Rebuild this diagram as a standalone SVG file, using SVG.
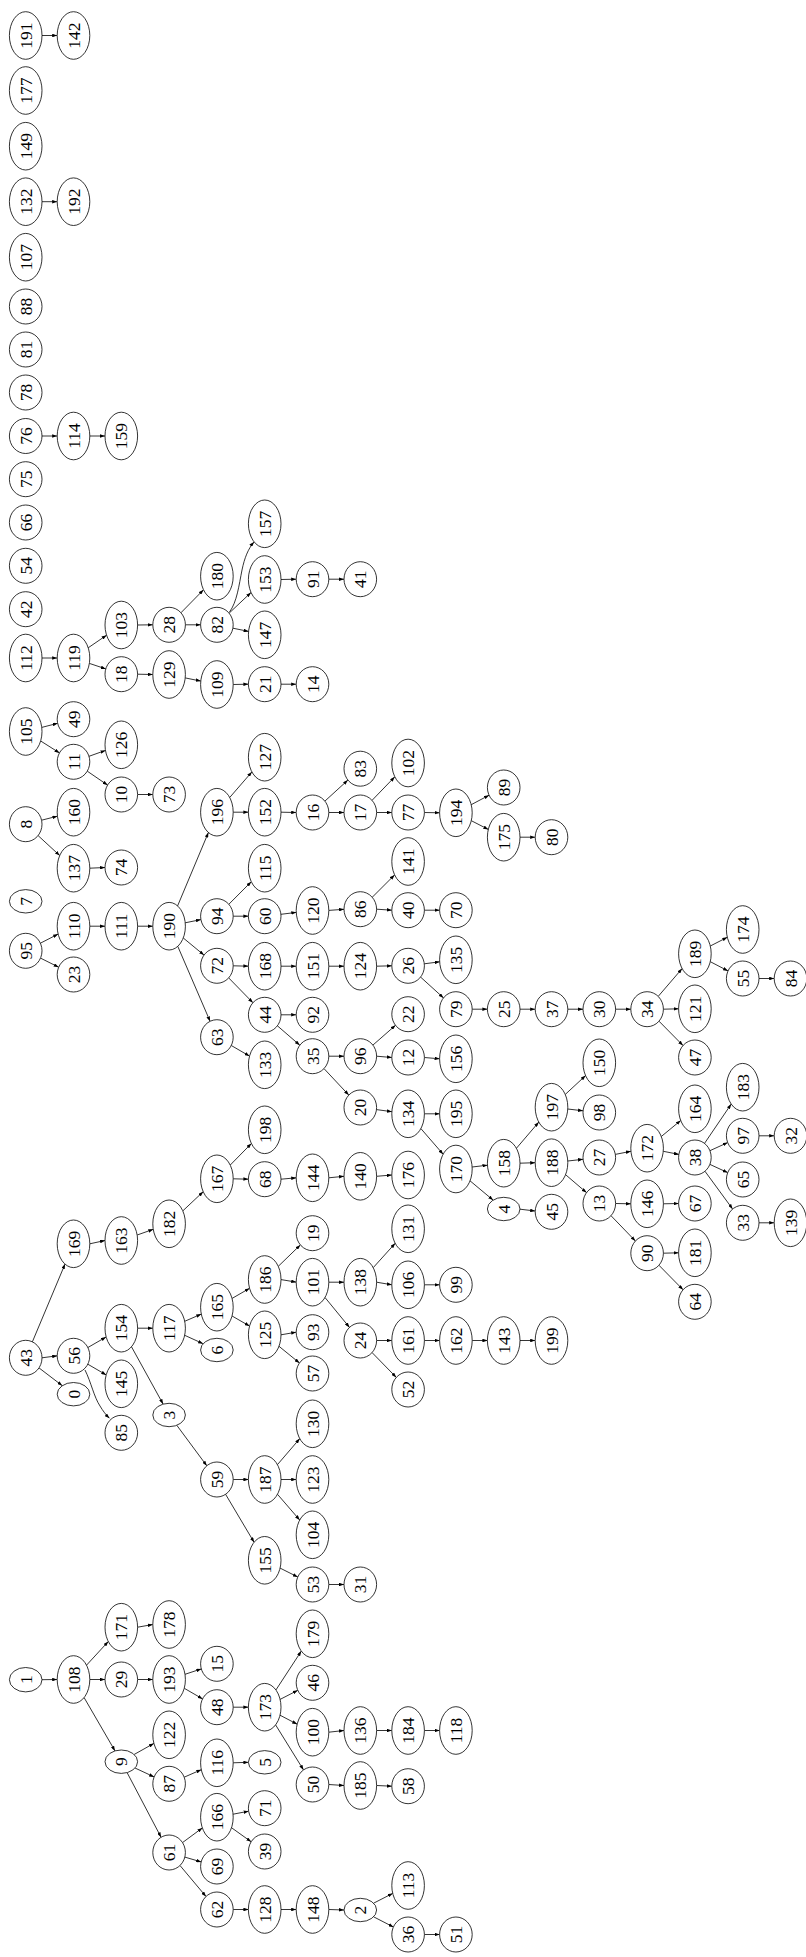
<svg xmlns="http://www.w3.org/2000/svg" width="806" height="1957" viewBox="0 0 806 1957">
<style>
ellipse{fill:#fff;stroke:#000;stroke-width:.8}
text{font-family:"Liberation Serif","Times New Roman",serif;font-size:17.5px;text-anchor:middle;fill:#000}
#edges path{fill:none;stroke:#000;stroke-width:.8;marker-end:url(#a)}
</style>
<defs>
<marker id="a" viewBox="0 0 10 10" refX="10" refY="5" markerWidth="5" markerHeight="3.6" markerUnits="userSpaceOnUse" orient="auto" preserveAspectRatio="none"><path d="M0,0L10,5L0,10z" fill="#000"/></marker>
</defs>
<rect width="806" height="1957" fill="#fff"/>
<g id="edges">
<path d="M42,35.5L57.2,35.5"/>
<path d="M42,201.7L57.2,201.7"/>
<path d="M42,436L57.2,436"/>
<path d="M89.8,436L105,436"/>
<path d="M42,658L57.2,658"/>
<path d="M88.2,647.8L106.6,635.2"/>
<path d="M89.4,663.4L105.8,668.9"/>
<path d="M137.6,625L152.8,624.8"/>
<path d="M180.9,612.8L203.5,589.8"/>
<path d="M185.4,624.8L200.6,624.8"/>
<path d="M229.5,612C237,602 239,585 242,570C244.5,558 248,549 254,542"/>
<path d="M229.1,613.2L251,592.5"/>
<path d="M232.9,628.2L248.6,631.4"/>
<path d="M281,579.5L296.2,579.2"/>
<path d="M328.8,579.2L344,579.2"/>
<path d="M137.6,674.2L152.8,674.5"/>
<path d="M185.2,677.9L200.8,681.1"/>
<path d="M233.2,684.5L248.4,684.2"/>
<path d="M281,684.2L296.2,684.2"/>
<path d="M41.8,727.4L57.7,723.3"/>
<path d="M40.7,741L59.5,752.9"/>
<path d="M89,756.3L105.5,750.4"/>
<path d="M87.3,771.2L107.6,785.1"/>
<path d="M137.6,794.5L152.8,794.5"/>
<path d="M41.6,820.2L57.4,816.2"/>
<path d="M38.1,835.6L59.7,855.5"/>
<path d="M89.8,868.2L105,867.5"/>
<path d="M40.4,943.2L58.1,934.1"/>
<path d="M40.5,958.1L58.7,967.2"/>
<path d="M89.8,926.2L105,926.2"/>
<path d="M137.6,926.2L152.8,926.2"/>
<path d="M177.6,905.9L208.4,832.5"/>
<path d="M185.2,922.8L200.9,919.6"/>
<path d="M183.3,938L204,955.1"/>
<path d="M177.8,946.4L210.1,1021.3"/>
<path d="M229.7,797.5L251.9,771.9"/>
<path d="M233.2,812.2L248.4,812.2"/>
<path d="M281,812.2L296.2,812.5"/>
<path d="M324.9,801.1L347.9,780.1"/>
<path d="M328.8,812.5L344,812.5"/>
<path d="M372,800.4L394.8,776.8"/>
<path d="M376.6,812.5L391.8,812.5"/>
<path d="M424.4,812.5L439.6,812.8"/>
<path d="M471.2,804.7L489.1,795.2"/>
<path d="M471.3,820.7L488.3,829.4"/>
<path d="M520,837.2L535.2,837.2"/>
<path d="M228.8,904.3L251.3,881.7"/>
<path d="M233.2,916.2L248.4,916.2"/>
<path d="M280.9,914.3L296.3,912.4"/>
<path d="M328.8,910.4L344,909.3"/>
<path d="M372.2,897.3L394.6,874.9"/>
<path d="M376.6,909.2L391.8,910.2"/>
<path d="M424.4,910.2L439.6,910.2"/>
<path d="M233.2,965.8L248.4,966.2"/>
<path d="M228.7,977.9L252.9,1002.7"/>
<path d="M281,966.2L296.2,966.2"/>
<path d="M328.8,966.2L344,966.2"/>
<path d="M376.6,966.2L391.8,965.8"/>
<path d="M424.3,963.8L439.7,961.8"/>
<path d="M420.6,977.1L443.5,997.9"/>
<path d="M472.2,1009.2L487.4,1009.2"/>
<path d="M520,1009.2L535.2,1009.2"/>
<path d="M567.8,1009.2L583,1009.2"/>
<path d="M615.6,1009.2L630.8,1009.2"/>
<path d="M658.2,996.4L682.1,968.6"/>
<path d="M663.4,1009.2L678.6,1008.8"/>
<path d="M659,1021.2L683,1045.5"/>
<path d="M710.3,946L727.3,937.3"/>
<path d="M710.3,961.7L728,970.9"/>
<path d="M759,978.5L774.2,978.5"/>
<path d="M231.3,1045.5L249.5,1056.1"/>
<path d="M281,1014.8L296.2,1014.8"/>
<path d="M277.4,1025.8L299.8,1045.2"/>
<path d="M328.8,1056.2L344,1056.2"/>
<path d="M324,1068.6L348.8,1095.1"/>
<path d="M372.9,1045.1L395.5,1025.3"/>
<path d="M376.6,1056.2L391.8,1057.5"/>
<path d="M424.4,1057.5L439.6,1058.8"/>
<path d="M376.5,1109.6L391.9,1111.7"/>
<path d="M424.4,1113.8L439.6,1113.8"/>
<path d="M420.9,1128.6L443.1,1154.2"/>
<path d="M472.1,1167L487.5,1165.2"/>
<path d="M470,1180.8L493.1,1200.1"/>
<path d="M520,1209.2L535.2,1211"/>
<path d="M516.4,1148.3L538.8,1122.1"/>
<path d="M520,1163.2L535.2,1162.7"/>
<path d="M565.3,1094.4L585.6,1075.6"/>
<path d="M567.8,1109L583,1110.8"/>
<path d="M567.8,1161L583,1159.3"/>
<path d="M565.6,1174.7L586.5,1192.6"/>
<path d="M615.3,1154.4L630.9,1151.3"/>
<path d="M661.3,1136.5L680.7,1120.5"/>
<path d="M663.3,1151.3L678.9,1154.4"/>
<path d="M704.5,1143.4L731.2,1104.1"/>
<path d="M709.9,1150.7L727.7,1142.6"/>
<path d="M709.9,1164.4L727.7,1172.6"/>
<path d="M705,1171.3L732.6,1209"/>
<path d="M759,1135.8L774.2,1135.8"/>
<path d="M759,1222.8L774.2,1222.8"/>
<path d="M615.6,1203.5L630.8,1203.8"/>
<path d="M611,1215.7L635.4,1241"/>
<path d="M663.4,1203.8L678.6,1203.5"/>
<path d="M663.4,1253.2L678.6,1252.8"/>
<path d="M658.9,1265.2L683.1,1289.8"/>
<path d="M32.4,1341.8L65,1264.1"/>
<path d="M42,1357.8L57.2,1355.8"/>
<path d="M39,1367.9L62.3,1385.7"/>
<path d="M89.8,1243.8L105,1240.5"/>
<path d="M137.2,1235L153.3,1229.3"/>
<path d="M182.8,1210.9L203.2,1191.7"/>
<path d="M230.2,1165.1L251.4,1143.5"/>
<path d="M233.2,1178.8L248.4,1179.2"/>
<path d="M281,1179.2L296.2,1177.8"/>
<path d="M328.8,1177.8L344,1176.3"/>
<path d="M376.6,1176.3L391.8,1175"/>
<path d="M87.9,1347.5L106.1,1337"/>
<path d="M87.8,1364.2L106.2,1374.9"/>
<path d="M85,1370C91,1382 94,1397 100,1406C103,1411 106,1415 109.5,1418.3"/>
<path d="M137.6,1328.2L152.8,1328.2"/>
<path d="M131.5,1346.8L163.1,1404.1"/>
<path d="M184.7,1321.3L201.3,1314.1"/>
<path d="M184.7,1335.3L203.1,1343.7"/>
<path d="M232.1,1298.4L249.6,1288.3"/>
<path d="M232.1,1316L249.6,1326.1"/>
<path d="M278.3,1266.3L300.4,1244.9"/>
<path d="M281,1279.6L296.2,1282.1"/>
<path d="M328.8,1282.2L344,1282.2"/>
<path d="M325,1297.5L349.5,1327.4"/>
<path d="M373.2,1267.7L395.2,1243.3"/>
<path d="M376.6,1282.2L391.8,1284.8"/>
<path d="M424.4,1284.8L439.6,1284.8"/>
<path d="M376.6,1340.5L391.8,1340.5"/>
<path d="M372.1,1352.6L396.3,1377.4"/>
<path d="M424.4,1340.5L439.6,1340.5"/>
<path d="M472.2,1340.5L487.4,1340.5"/>
<path d="M520,1340.5L535.2,1340.5"/>
<path d="M281,1334.8L296.2,1332.2"/>
<path d="M279,1346.3L299.5,1363"/>
<path d="M176.8,1425.3L206.8,1465.8"/>
<path d="M233.2,1479.5L248.4,1479.5"/>
<path d="M225.6,1494.3L254.1,1542.3"/>
<path d="M277.4,1464.7L299.8,1438.6"/>
<path d="M281,1479.5L296.2,1479.5"/>
<path d="M277.5,1494.3L299.7,1520"/>
<path d="M280.1,1568.1L297.8,1577"/>
<path d="M328.8,1584.5L344,1584.5"/>
<path d="M42,1679.7L57.2,1679.5"/>
<path d="M86.5,1665.2L108.3,1641.5"/>
<path d="M89.8,1679.5L105,1679.5"/>
<path d="M84.1,1697.6L115,1750.9"/>
<path d="M137.6,1627.2L152.8,1624.5"/>
<path d="M137.6,1679.5L152.8,1679.5"/>
<path d="M185,1674.3L201.3,1668.9"/>
<path d="M184.3,1688.3L202.6,1698.9"/>
<path d="M233.2,1707.2L248.4,1707.2"/>
<path d="M275.9,1690L301.3,1651.1"/>
<path d="M280.1,1699.4L297.8,1690.3"/>
<path d="M280,1715.2L297.2,1724.2"/>
<path d="M275.6,1724.9L303.5,1769.9"/>
<path d="M328.8,1732.2L344,1730.5"/>
<path d="M376.6,1730.5L391.8,1730.5"/>
<path d="M424.4,1730.5L439.6,1730.5"/>
<path d="M328.8,1784.5L344,1785.5"/>
<path d="M376.6,1785.5L391.8,1786.2"/>
<path d="M134.1,1754.5L153.9,1743.4"/>
<path d="M135,1768L154.1,1776.9"/>
<path d="M127.1,1772.6L161.1,1837.3"/>
<path d="M184.2,1777.2L201.3,1769.7"/>
<path d="M233.2,1762.8L248.4,1762.3"/>
<path d="M182.5,1842.6L202.4,1827.9"/>
<path d="M184.8,1857.1L201.2,1861.9"/>
<path d="M180,1865.5L206,1896.5"/>
<path d="M233.1,1814.2L248.6,1811.2"/>
<path d="M231.5,1827.7L251.2,1841.8"/>
<path d="M233.2,1909.5L248.4,1909.5"/>
<path d="M281,1909.5L296.2,1909.5"/>
<path d="M328.8,1909.5L344,1910"/>
<path d="M373.6,1903.2L392.7,1893.4"/>
<path d="M373.6,1916.8L393.4,1927"/>
<path d="M424.4,1934.5L439.6,1934.5"/>
</g>
<g id="n191"><ellipse cx="25.7" cy="35.5" rx="16.3" ry="23.8"/><text transform="translate(25.7 35.5) rotate(-90)" y="6">191</text></g>
<g id="n177"><ellipse cx="25.7" cy="90.5" rx="16.3" ry="23.8"/><text transform="translate(25.7 90.5) rotate(-90)" y="6">177</text></g>
<g id="n149"><ellipse cx="25.7" cy="146.2" rx="16.3" ry="23.8"/><text transform="translate(25.7 146.2) rotate(-90)" y="6">149</text></g>
<g id="n132"><ellipse cx="25.7" cy="201.7" rx="16.3" ry="23.8"/><text transform="translate(25.7 201.7) rotate(-90)" y="6">132</text></g>
<g id="n107"><ellipse cx="25.7" cy="257.2" rx="16.3" ry="23.8"/><text transform="translate(25.7 257.2) rotate(-90)" y="6">107</text></g>
<g id="n88"><ellipse cx="25.7" cy="306.5" rx="16.3" ry="17.5"/><text transform="translate(25.7 306.5) rotate(-90)" y="6">88</text></g>
<g id="n81"><ellipse cx="25.7" cy="349.5" rx="16.3" ry="17.5"/><text transform="translate(25.7 349.5) rotate(-90)" y="6">81</text></g>
<g id="n78"><ellipse cx="25.7" cy="392.5" rx="16.3" ry="17.5"/><text transform="translate(25.7 392.5) rotate(-90)" y="6">78</text></g>
<g id="n76"><ellipse cx="25.7" cy="436" rx="16.3" ry="17.5"/><text transform="translate(25.7 436) rotate(-90)" y="6">76</text></g>
<g id="n75"><ellipse cx="25.7" cy="479.2" rx="16.3" ry="17.5"/><text transform="translate(25.7 479.2) rotate(-90)" y="6">75</text></g>
<g id="n66"><ellipse cx="25.7" cy="522.5" rx="16.3" ry="17.5"/><text transform="translate(25.7 522.5) rotate(-90)" y="6">66</text></g>
<g id="n54"><ellipse cx="25.7" cy="565.8" rx="16.3" ry="17.5"/><text transform="translate(25.7 565.8) rotate(-90)" y="6">54</text></g>
<g id="n42"><ellipse cx="25.7" cy="609.2" rx="16.3" ry="17.5"/><text transform="translate(25.7 609.2) rotate(-90)" y="6">42</text></g>
<g id="n112"><ellipse cx="25.7" cy="658" rx="16.3" ry="23.8"/><text transform="translate(25.7 658) rotate(-90)" y="6">112</text></g>
<g id="n105"><ellipse cx="25.7" cy="731.5" rx="16.3" ry="23.8"/><text transform="translate(25.7 731.5) rotate(-90)" y="6">105</text></g>
<g id="n8"><ellipse cx="25.7" cy="824.2" rx="16.3" ry="17.5"/><text transform="translate(25.7 824.2) rotate(-90)" y="6">8</text></g>
<g id="n7"><ellipse cx="25.7" cy="901.3" rx="16.3" ry="11.7"/><text transform="translate(25.7 901.3) rotate(-90)" y="6">7</text></g>
<g id="n95"><ellipse cx="25.7" cy="950.8" rx="16.3" ry="17.5"/><text transform="translate(25.7 950.8) rotate(-90)" y="6">95</text></g>
<g id="n43"><ellipse cx="25.7" cy="1357.8" rx="16.3" ry="17.5"/><text transform="translate(25.7 1357.8) rotate(-90)" y="6">43</text></g>
<g id="n1"><ellipse cx="25.7" cy="1679.7" rx="16.3" ry="12.2"/><text transform="translate(25.7 1679.7) rotate(-90)" y="6">1</text></g>
<g id="n142"><ellipse cx="73.5" cy="35.5" rx="16.3" ry="23.8"/><text transform="translate(73.5 35.5) rotate(-90)" y="6">142</text></g>
<g id="n192"><ellipse cx="73.5" cy="201.7" rx="16.3" ry="23.8"/><text transform="translate(73.5 201.7) rotate(-90)" y="6">192</text></g>
<g id="n114"><ellipse cx="73.5" cy="436" rx="16.3" ry="23.8"/><text transform="translate(73.5 436) rotate(-90)" y="6">114</text></g>
<g id="n119"><ellipse cx="73.5" cy="658" rx="16.3" ry="23.8"/><text transform="translate(73.5 658) rotate(-90)" y="6">119</text></g>
<g id="n49"><ellipse cx="73.5" cy="719.2" rx="16.3" ry="17.5"/><text transform="translate(73.5 719.2) rotate(-90)" y="6">49</text></g>
<g id="n11"><ellipse cx="73.5" cy="761.8" rx="16.3" ry="17.5"/><text transform="translate(73.5 761.8) rotate(-90)" y="6">11</text></g>
<g id="n160"><ellipse cx="73.5" cy="812.2" rx="16.3" ry="23.8"/><text transform="translate(73.5 812.2) rotate(-90)" y="6">160</text></g>
<g id="n137"><ellipse cx="73.5" cy="868.2" rx="16.3" ry="23.8"/><text transform="translate(73.5 868.2) rotate(-90)" y="6">137</text></g>
<g id="n110"><ellipse cx="73.5" cy="926.2" rx="16.3" ry="23.8"/><text transform="translate(73.5 926.2) rotate(-90)" y="6">110</text></g>
<g id="n23"><ellipse cx="73.5" cy="974.5" rx="16.3" ry="17.5"/><text transform="translate(73.5 974.5) rotate(-90)" y="6">23</text></g>
<g id="n169"><ellipse cx="73.5" cy="1243.8" rx="16.3" ry="23.8"/><text transform="translate(73.5 1243.8) rotate(-90)" y="6">169</text></g>
<g id="n56"><ellipse cx="73.5" cy="1355.8" rx="16.3" ry="17.5"/><text transform="translate(73.5 1355.8) rotate(-90)" y="6">56</text></g>
<g id="n0"><ellipse cx="73.5" cy="1394.2" rx="16.3" ry="11.7"/><text transform="translate(73.5 1394.2) rotate(-90)" y="6">0</text></g>
<g id="n108"><ellipse cx="73.5" cy="1679.5" rx="16.3" ry="23.8"/><text transform="translate(73.5 1679.5) rotate(-90)" y="6">108</text></g>
<g id="n159"><ellipse cx="121.3" cy="436" rx="16.3" ry="23.8"/><text transform="translate(121.3 436) rotate(-90)" y="6">159</text></g>
<g id="n103"><ellipse cx="121.3" cy="625" rx="16.3" ry="23.8"/><text transform="translate(121.3 625) rotate(-90)" y="6">103</text></g>
<g id="n18"><ellipse cx="121.3" cy="674.2" rx="16.3" ry="17.5"/><text transform="translate(121.3 674.2) rotate(-90)" y="6">18</text></g>
<g id="n126"><ellipse cx="121.3" cy="744.8" rx="16.3" ry="23.8"/><text transform="translate(121.3 744.8) rotate(-90)" y="6">126</text></g>
<g id="n10"><ellipse cx="121.3" cy="794.5" rx="16.3" ry="17.5"/><text transform="translate(121.3 794.5) rotate(-90)" y="6">10</text></g>
<g id="n74"><ellipse cx="121.3" cy="867.5" rx="16.3" ry="17.5"/><text transform="translate(121.3 867.5) rotate(-90)" y="6">74</text></g>
<g id="n111"><ellipse cx="121.3" cy="926.2" rx="16.3" ry="23.8"/><text transform="translate(121.3 926.2) rotate(-90)" y="6">111</text></g>
<g id="n163"><ellipse cx="121.3" cy="1240.5" rx="16.3" ry="23.8"/><text transform="translate(121.3 1240.5) rotate(-90)" y="6">163</text></g>
<g id="n154"><ellipse cx="121.3" cy="1328.2" rx="16.3" ry="23.8"/><text transform="translate(121.3 1328.2) rotate(-90)" y="6">154</text></g>
<g id="n145"><ellipse cx="121.3" cy="1383.8" rx="16.3" ry="23.8"/><text transform="translate(121.3 1383.8) rotate(-90)" y="6">145</text></g>
<g id="n85"><ellipse cx="121.3" cy="1432.8" rx="16.3" ry="17.5"/><text transform="translate(121.3 1432.8) rotate(-90)" y="6">85</text></g>
<g id="n171"><ellipse cx="121.3" cy="1627.2" rx="16.3" ry="23.8"/><text transform="translate(121.3 1627.2) rotate(-90)" y="6">171</text></g>
<g id="n29"><ellipse cx="121.3" cy="1679.5" rx="16.3" ry="17.5"/><text transform="translate(121.3 1679.5) rotate(-90)" y="6">29</text></g>
<g id="n9"><ellipse cx="121.3" cy="1761.7" rx="16.3" ry="11.7"/><text transform="translate(121.3 1761.7) rotate(-90)" y="6">9</text></g>
<g id="n28"><ellipse cx="169.1" cy="624.8" rx="16.3" ry="17.5"/><text transform="translate(169.1 624.8) rotate(-90)" y="6">28</text></g>
<g id="n129"><ellipse cx="169.1" cy="674.5" rx="16.3" ry="23.8"/><text transform="translate(169.1 674.5) rotate(-90)" y="6">129</text></g>
<g id="n73"><ellipse cx="169.1" cy="794.5" rx="16.3" ry="17.5"/><text transform="translate(169.1 794.5) rotate(-90)" y="6">73</text></g>
<g id="n190"><ellipse cx="169.1" cy="926.2" rx="16.3" ry="23.8"/><text transform="translate(169.1 926.2) rotate(-90)" y="6">190</text></g>
<g id="n182"><ellipse cx="169.1" cy="1223.8" rx="16.3" ry="23.8"/><text transform="translate(169.1 1223.8) rotate(-90)" y="6">182</text></g>
<g id="n117"><ellipse cx="169.1" cy="1328.2" rx="16.3" ry="23.8"/><text transform="translate(169.1 1328.2) rotate(-90)" y="6">117</text></g>
<g id="n3"><ellipse cx="169.1" cy="1415" rx="16.3" ry="11.7"/><text transform="translate(169.1 1415) rotate(-90)" y="6">3</text></g>
<g id="n178"><ellipse cx="169.1" cy="1624.5" rx="16.3" ry="23.8"/><text transform="translate(169.1 1624.5) rotate(-90)" y="6">178</text></g>
<g id="n193"><ellipse cx="169.1" cy="1679.5" rx="16.3" ry="23.8"/><text transform="translate(169.1 1679.5) rotate(-90)" y="6">193</text></g>
<g id="n122"><ellipse cx="169.1" cy="1734.8" rx="16.3" ry="23.8"/><text transform="translate(169.1 1734.8) rotate(-90)" y="6">122</text></g>
<g id="n87"><ellipse cx="169.1" cy="1783.8" rx="16.3" ry="17.5"/><text transform="translate(169.1 1783.8) rotate(-90)" y="6">87</text></g>
<g id="n61"><ellipse cx="169.1" cy="1852.5" rx="16.3" ry="17.5"/><text transform="translate(169.1 1852.5) rotate(-90)" y="6">61</text></g>
<g id="n180"><ellipse cx="216.9" cy="576.2" rx="16.3" ry="23.8"/><text transform="translate(216.9 576.2) rotate(-90)" y="6">180</text></g>
<g id="n82"><ellipse cx="216.9" cy="624.8" rx="16.3" ry="17.5"/><text transform="translate(216.9 624.8) rotate(-90)" y="6">82</text></g>
<g id="n109"><ellipse cx="216.9" cy="684.5" rx="16.3" ry="23.8"/><text transform="translate(216.9 684.5) rotate(-90)" y="6">109</text></g>
<g id="n196"><ellipse cx="216.9" cy="812.2" rx="16.3" ry="23.8"/><text transform="translate(216.9 812.2) rotate(-90)" y="6">196</text></g>
<g id="n94"><ellipse cx="216.9" cy="916.2" rx="16.3" ry="17.5"/><text transform="translate(216.9 916.2) rotate(-90)" y="6">94</text></g>
<g id="n72"><ellipse cx="216.9" cy="965.8" rx="16.3" ry="17.5"/><text transform="translate(216.9 965.8) rotate(-90)" y="6">72</text></g>
<g id="n63"><ellipse cx="216.9" cy="1037.2" rx="16.3" ry="17.5"/><text transform="translate(216.9 1037.2) rotate(-90)" y="6">63</text></g>
<g id="n167"><ellipse cx="216.9" cy="1178.8" rx="16.3" ry="23.8"/><text transform="translate(216.9 1178.8) rotate(-90)" y="6">167</text></g>
<g id="n165"><ellipse cx="216.9" cy="1307.2" rx="16.3" ry="23.8"/><text transform="translate(216.9 1307.2) rotate(-90)" y="6">165</text></g>
<g id="n6"><ellipse cx="216.9" cy="1350" rx="16.3" ry="11.7"/><text transform="translate(216.9 1350) rotate(-90)" y="6">6</text></g>
<g id="n59"><ellipse cx="216.9" cy="1479.5" rx="16.3" ry="17.5"/><text transform="translate(216.9 1479.5) rotate(-90)" y="6">59</text></g>
<g id="n15"><ellipse cx="216.9" cy="1663.8" rx="16.3" ry="17.5"/><text transform="translate(216.9 1663.8) rotate(-90)" y="6">15</text></g>
<g id="n48"><ellipse cx="216.9" cy="1707.2" rx="16.3" ry="17.5"/><text transform="translate(216.9 1707.2) rotate(-90)" y="6">48</text></g>
<g id="n116"><ellipse cx="216.9" cy="1762.8" rx="16.3" ry="23.8"/><text transform="translate(216.9 1762.8) rotate(-90)" y="6">116</text></g>
<g id="n166"><ellipse cx="216.9" cy="1817.2" rx="16.3" ry="23.8"/><text transform="translate(216.9 1817.2) rotate(-90)" y="6">166</text></g>
<g id="n69"><ellipse cx="216.9" cy="1866.5" rx="16.3" ry="17.5"/><text transform="translate(216.9 1866.5) rotate(-90)" y="6">69</text></g>
<g id="n62"><ellipse cx="216.9" cy="1909.5" rx="16.3" ry="17.5"/><text transform="translate(216.9 1909.5) rotate(-90)" y="6">62</text></g>
<g id="n157"><ellipse cx="264.7" cy="523.8" rx="16.3" ry="23.8"/><text transform="translate(264.7 523.8) rotate(-90)" y="6">157</text></g>
<g id="n153"><ellipse cx="264.7" cy="579.5" rx="16.3" ry="23.8"/><text transform="translate(264.7 579.5) rotate(-90)" y="6">153</text></g>
<g id="n147"><ellipse cx="264.7" cy="634.8" rx="16.3" ry="23.8"/><text transform="translate(264.7 634.8) rotate(-90)" y="6">147</text></g>
<g id="n21"><ellipse cx="264.7" cy="684.2" rx="16.3" ry="17.5"/><text transform="translate(264.7 684.2) rotate(-90)" y="6">21</text></g>
<g id="n127"><ellipse cx="264.7" cy="757.2" rx="16.3" ry="23.8"/><text transform="translate(264.7 757.2) rotate(-90)" y="6">127</text></g>
<g id="n152"><ellipse cx="264.7" cy="812.2" rx="16.3" ry="23.8"/><text transform="translate(264.7 812.2) rotate(-90)" y="6">152</text></g>
<g id="n115"><ellipse cx="264.7" cy="868.2" rx="16.3" ry="23.8"/><text transform="translate(264.7 868.2) rotate(-90)" y="6">115</text></g>
<g id="n60"><ellipse cx="264.7" cy="916.2" rx="16.3" ry="17.5"/><text transform="translate(264.7 916.2) rotate(-90)" y="6">60</text></g>
<g id="n168"><ellipse cx="264.7" cy="966.2" rx="16.3" ry="23.8"/><text transform="translate(264.7 966.2) rotate(-90)" y="6">168</text></g>
<g id="n44"><ellipse cx="264.7" cy="1014.8" rx="16.3" ry="17.5"/><text transform="translate(264.7 1014.8) rotate(-90)" y="6">44</text></g>
<g id="n133"><ellipse cx="264.7" cy="1064.8" rx="16.3" ry="23.8"/><text transform="translate(264.7 1064.8) rotate(-90)" y="6">133</text></g>
<g id="n198"><ellipse cx="264.7" cy="1129.8" rx="16.3" ry="23.8"/><text transform="translate(264.7 1129.8) rotate(-90)" y="6">198</text></g>
<g id="n68"><ellipse cx="264.7" cy="1179.2" rx="16.3" ry="17.5"/><text transform="translate(264.7 1179.2) rotate(-90)" y="6">68</text></g>
<g id="n186"><ellipse cx="264.7" cy="1279.5" rx="16.3" ry="23.8"/><text transform="translate(264.7 1279.5) rotate(-90)" y="6">186</text></g>
<g id="n125"><ellipse cx="264.7" cy="1334.8" rx="16.3" ry="23.8"/><text transform="translate(264.7 1334.8) rotate(-90)" y="6">125</text></g>
<g id="n187"><ellipse cx="264.7" cy="1479.5" rx="16.3" ry="23.8"/><text transform="translate(264.7 1479.5) rotate(-90)" y="6">187</text></g>
<g id="n155"><ellipse cx="264.7" cy="1560.3" rx="16.3" ry="23.8"/><text transform="translate(264.7 1560.3) rotate(-90)" y="6">155</text></g>
<g id="n173"><ellipse cx="264.7" cy="1707.2" rx="16.3" ry="23.8"/><text transform="translate(264.7 1707.2) rotate(-90)" y="6">173</text></g>
<g id="n5"><ellipse cx="264.7" cy="1762.3" rx="16.3" ry="11.7"/><text transform="translate(264.7 1762.3) rotate(-90)" y="6">5</text></g>
<g id="n71"><ellipse cx="264.7" cy="1808.2" rx="16.3" ry="17.5"/><text transform="translate(264.7 1808.2) rotate(-90)" y="6">71</text></g>
<g id="n39"><ellipse cx="264.7" cy="1851.5" rx="16.3" ry="17.5"/><text transform="translate(264.7 1851.5) rotate(-90)" y="6">39</text></g>
<g id="n128"><ellipse cx="264.7" cy="1909.5" rx="16.3" ry="23.8"/><text transform="translate(264.7 1909.5) rotate(-90)" y="6">128</text></g>
<g id="n91"><ellipse cx="312.5" cy="579.2" rx="16.3" ry="17.5"/><text transform="translate(312.5 579.2) rotate(-90)" y="6">91</text></g>
<g id="n14"><ellipse cx="312.5" cy="684.2" rx="16.3" ry="17.5"/><text transform="translate(312.5 684.2) rotate(-90)" y="6">14</text></g>
<g id="n16"><ellipse cx="312.5" cy="812.5" rx="16.3" ry="17.5"/><text transform="translate(312.5 812.5) rotate(-90)" y="6">16</text></g>
<g id="n120"><ellipse cx="312.5" cy="910.5" rx="16.3" ry="23.8"/><text transform="translate(312.5 910.5) rotate(-90)" y="6">120</text></g>
<g id="n151"><ellipse cx="312.5" cy="966.2" rx="16.3" ry="23.8"/><text transform="translate(312.5 966.2) rotate(-90)" y="6">151</text></g>
<g id="n92"><ellipse cx="312.5" cy="1014.8" rx="16.3" ry="17.5"/><text transform="translate(312.5 1014.8) rotate(-90)" y="6">92</text></g>
<g id="n35"><ellipse cx="312.5" cy="1056.2" rx="16.3" ry="17.5"/><text transform="translate(312.5 1056.2) rotate(-90)" y="6">35</text></g>
<g id="n144"><ellipse cx="312.5" cy="1177.8" rx="16.3" ry="23.8"/><text transform="translate(312.5 1177.8) rotate(-90)" y="6">144</text></g>
<g id="n19"><ellipse cx="312.5" cy="1233.2" rx="16.3" ry="17.5"/><text transform="translate(312.5 1233.2) rotate(-90)" y="6">19</text></g>
<g id="n101"><ellipse cx="312.5" cy="1282.2" rx="16.3" ry="23.8"/><text transform="translate(312.5 1282.2) rotate(-90)" y="6">101</text></g>
<g id="n93"><ellipse cx="312.5" cy="1332.2" rx="16.3" ry="17.5"/><text transform="translate(312.5 1332.2) rotate(-90)" y="6">93</text></g>
<g id="n57"><ellipse cx="312.5" cy="1373.5" rx="16.3" ry="17.5"/><text transform="translate(312.5 1373.5) rotate(-90)" y="6">57</text></g>
<g id="n130"><ellipse cx="312.5" cy="1423.8" rx="16.3" ry="23.8"/><text transform="translate(312.5 1423.8) rotate(-90)" y="6">130</text></g>
<g id="n123"><ellipse cx="312.5" cy="1479.5" rx="16.3" ry="23.8"/><text transform="translate(312.5 1479.5) rotate(-90)" y="6">123</text></g>
<g id="n104"><ellipse cx="312.5" cy="1534.8" rx="16.3" ry="23.8"/><text transform="translate(312.5 1534.8) rotate(-90)" y="6">104</text></g>
<g id="n53"><ellipse cx="312.5" cy="1584.5" rx="16.3" ry="17.5"/><text transform="translate(312.5 1584.5) rotate(-90)" y="6">53</text></g>
<g id="n179"><ellipse cx="312.5" cy="1633.8" rx="16.3" ry="23.8"/><text transform="translate(312.5 1633.8) rotate(-90)" y="6">179</text></g>
<g id="n46"><ellipse cx="312.5" cy="1682.8" rx="16.3" ry="17.5"/><text transform="translate(312.5 1682.8) rotate(-90)" y="6">46</text></g>
<g id="n100"><ellipse cx="312.5" cy="1732.2" rx="16.3" ry="23.8"/><text transform="translate(312.5 1732.2) rotate(-90)" y="6">100</text></g>
<g id="n50"><ellipse cx="312.5" cy="1784.5" rx="16.3" ry="17.5"/><text transform="translate(312.5 1784.5) rotate(-90)" y="6">50</text></g>
<g id="n148"><ellipse cx="312.5" cy="1909.5" rx="16.3" ry="23.8"/><text transform="translate(312.5 1909.5) rotate(-90)" y="6">148</text></g>
<g id="n41"><ellipse cx="360.3" cy="579.2" rx="16.3" ry="17.5"/><text transform="translate(360.3 579.2) rotate(-90)" y="6">41</text></g>
<g id="n83"><ellipse cx="360.3" cy="768.7" rx="16.3" ry="17.5"/><text transform="translate(360.3 768.7) rotate(-90)" y="6">83</text></g>
<g id="n17"><ellipse cx="360.3" cy="812.5" rx="16.3" ry="17.5"/><text transform="translate(360.3 812.5) rotate(-90)" y="6">17</text></g>
<g id="n86"><ellipse cx="360.3" cy="909.2" rx="16.3" ry="17.5"/><text transform="translate(360.3 909.2) rotate(-90)" y="6">86</text></g>
<g id="n124"><ellipse cx="360.3" cy="966.2" rx="16.3" ry="23.8"/><text transform="translate(360.3 966.2) rotate(-90)" y="6">124</text></g>
<g id="n96"><ellipse cx="360.3" cy="1056.2" rx="16.3" ry="17.5"/><text transform="translate(360.3 1056.2) rotate(-90)" y="6">96</text></g>
<g id="n20"><ellipse cx="360.3" cy="1107.5" rx="16.3" ry="17.5"/><text transform="translate(360.3 1107.5) rotate(-90)" y="6">20</text></g>
<g id="n140"><ellipse cx="360.3" cy="1176.3" rx="16.3" ry="23.8"/><text transform="translate(360.3 1176.3) rotate(-90)" y="6">140</text></g>
<g id="n138"><ellipse cx="360.3" cy="1282.2" rx="16.3" ry="23.8"/><text transform="translate(360.3 1282.2) rotate(-90)" y="6">138</text></g>
<g id="n24"><ellipse cx="360.3" cy="1340.5" rx="16.3" ry="17.5"/><text transform="translate(360.3 1340.5) rotate(-90)" y="6">24</text></g>
<g id="n31"><ellipse cx="360.3" cy="1584.5" rx="16.3" ry="17.5"/><text transform="translate(360.3 1584.5) rotate(-90)" y="6">31</text></g>
<g id="n136"><ellipse cx="360.3" cy="1730.5" rx="16.3" ry="23.8"/><text transform="translate(360.3 1730.5) rotate(-90)" y="6">136</text></g>
<g id="n185"><ellipse cx="360.3" cy="1785.5" rx="16.3" ry="23.8"/><text transform="translate(360.3 1785.5) rotate(-90)" y="6">185</text></g>
<g id="n2"><ellipse cx="360.3" cy="1910" rx="16.3" ry="11.7"/><text transform="translate(360.3 1910) rotate(-90)" y="6">2</text></g>
<g id="n102"><ellipse cx="408.1" cy="763" rx="16.3" ry="23.8"/><text transform="translate(408.1 763) rotate(-90)" y="6">102</text></g>
<g id="n77"><ellipse cx="408.1" cy="812.5" rx="16.3" ry="17.5"/><text transform="translate(408.1 812.5) rotate(-90)" y="6">77</text></g>
<g id="n141"><ellipse cx="408.1" cy="861.5" rx="16.3" ry="23.8"/><text transform="translate(408.1 861.5) rotate(-90)" y="6">141</text></g>
<g id="n40"><ellipse cx="408.1" cy="910.2" rx="16.3" ry="17.5"/><text transform="translate(408.1 910.2) rotate(-90)" y="6">40</text></g>
<g id="n26"><ellipse cx="408.1" cy="965.8" rx="16.3" ry="17.5"/><text transform="translate(408.1 965.8) rotate(-90)" y="6">26</text></g>
<g id="n22"><ellipse cx="408.1" cy="1014.2" rx="16.3" ry="17.5"/><text transform="translate(408.1 1014.2) rotate(-90)" y="6">22</text></g>
<g id="n12"><ellipse cx="408.1" cy="1057.5" rx="16.3" ry="17.5"/><text transform="translate(408.1 1057.5) rotate(-90)" y="6">12</text></g>
<g id="n134"><ellipse cx="408.1" cy="1113.8" rx="16.3" ry="23.8"/><text transform="translate(408.1 1113.8) rotate(-90)" y="6">134</text></g>
<g id="n176"><ellipse cx="408.1" cy="1175" rx="16.3" ry="23.8"/><text transform="translate(408.1 1175) rotate(-90)" y="6">176</text></g>
<g id="n131"><ellipse cx="408.1" cy="1228.8" rx="16.3" ry="23.8"/><text transform="translate(408.1 1228.8) rotate(-90)" y="6">131</text></g>
<g id="n106"><ellipse cx="408.1" cy="1284.8" rx="16.3" ry="23.8"/><text transform="translate(408.1 1284.8) rotate(-90)" y="6">106</text></g>
<g id="n161"><ellipse cx="408.1" cy="1340.5" rx="16.3" ry="23.8"/><text transform="translate(408.1 1340.5) rotate(-90)" y="6">161</text></g>
<g id="n52"><ellipse cx="408.1" cy="1389.5" rx="16.3" ry="17.5"/><text transform="translate(408.1 1389.5) rotate(-90)" y="6">52</text></g>
<g id="n184"><ellipse cx="408.1" cy="1730.5" rx="16.3" ry="23.8"/><text transform="translate(408.1 1730.5) rotate(-90)" y="6">184</text></g>
<g id="n58"><ellipse cx="408.1" cy="1786.2" rx="16.3" ry="17.5"/><text transform="translate(408.1 1786.2) rotate(-90)" y="6">58</text></g>
<g id="n113"><ellipse cx="408.1" cy="1885.5" rx="16.3" ry="23.8"/><text transform="translate(408.1 1885.5) rotate(-90)" y="6">113</text></g>
<g id="n36"><ellipse cx="408.1" cy="1934.5" rx="16.3" ry="17.5"/><text transform="translate(408.1 1934.5) rotate(-90)" y="6">36</text></g>
<g id="n194"><ellipse cx="455.9" cy="812.8" rx="16.3" ry="23.8"/><text transform="translate(455.9 812.8) rotate(-90)" y="6">194</text></g>
<g id="n70"><ellipse cx="455.9" cy="910.2" rx="16.3" ry="17.5"/><text transform="translate(455.9 910.2) rotate(-90)" y="6">70</text></g>
<g id="n135"><ellipse cx="455.9" cy="959.8" rx="16.3" ry="23.8"/><text transform="translate(455.9 959.8) rotate(-90)" y="6">135</text></g>
<g id="n79"><ellipse cx="455.9" cy="1009.2" rx="16.3" ry="17.5"/><text transform="translate(455.9 1009.2) rotate(-90)" y="6">79</text></g>
<g id="n156"><ellipse cx="455.9" cy="1058.8" rx="16.3" ry="23.8"/><text transform="translate(455.9 1058.8) rotate(-90)" y="6">156</text></g>
<g id="n195"><ellipse cx="455.9" cy="1113.8" rx="16.3" ry="23.8"/><text transform="translate(455.9 1113.8) rotate(-90)" y="6">195</text></g>
<g id="n170"><ellipse cx="455.9" cy="1169" rx="16.3" ry="23.8"/><text transform="translate(455.9 1169) rotate(-90)" y="6">170</text></g>
<g id="n99"><ellipse cx="455.9" cy="1284.8" rx="16.3" ry="17.5"/><text transform="translate(455.9 1284.8) rotate(-90)" y="6">99</text></g>
<g id="n162"><ellipse cx="455.9" cy="1340.5" rx="16.3" ry="23.8"/><text transform="translate(455.9 1340.5) rotate(-90)" y="6">162</text></g>
<g id="n118"><ellipse cx="455.9" cy="1730.5" rx="16.3" ry="23.8"/><text transform="translate(455.9 1730.5) rotate(-90)" y="6">118</text></g>
<g id="n51"><ellipse cx="455.9" cy="1934.5" rx="16.3" ry="17.5"/><text transform="translate(455.9 1934.5) rotate(-90)" y="6">51</text></g>
<g id="n89"><ellipse cx="503.7" cy="787.5" rx="16.3" ry="17.5"/><text transform="translate(503.7 787.5) rotate(-90)" y="6">89</text></g>
<g id="n175"><ellipse cx="503.7" cy="837.2" rx="16.3" ry="23.8"/><text transform="translate(503.7 837.2) rotate(-90)" y="6">175</text></g>
<g id="n25"><ellipse cx="503.7" cy="1009.2" rx="16.3" ry="17.5"/><text transform="translate(503.7 1009.2) rotate(-90)" y="6">25</text></g>
<g id="n158"><ellipse cx="503.7" cy="1163.2" rx="16.3" ry="23.8"/><text transform="translate(503.7 1163.2) rotate(-90)" y="6">158</text></g>
<g id="n4"><ellipse cx="503.7" cy="1209" rx="16.3" ry="11.7"/><text transform="translate(503.7 1209) rotate(-90)" y="6">4</text></g>
<g id="n143"><ellipse cx="503.7" cy="1340.5" rx="16.3" ry="23.8"/><text transform="translate(503.7 1340.5) rotate(-90)" y="6">143</text></g>
<g id="n80"><ellipse cx="551.5" cy="837.2" rx="16.3" ry="17.5"/><text transform="translate(551.5 837.2) rotate(-90)" y="6">80</text></g>
<g id="n37"><ellipse cx="551.5" cy="1009.2" rx="16.3" ry="17.5"/><text transform="translate(551.5 1009.2) rotate(-90)" y="6">37</text></g>
<g id="n197"><ellipse cx="551.5" cy="1107.2" rx="16.3" ry="23.8"/><text transform="translate(551.5 1107.2) rotate(-90)" y="6">197</text></g>
<g id="n188"><ellipse cx="551.5" cy="1162.7" rx="16.3" ry="23.8"/><text transform="translate(551.5 1162.7) rotate(-90)" y="6">188</text></g>
<g id="n45"><ellipse cx="551.5" cy="1211.8" rx="16.3" ry="17.5"/><text transform="translate(551.5 1211.8) rotate(-90)" y="6">45</text></g>
<g id="n199"><ellipse cx="551.5" cy="1340.5" rx="16.3" ry="23.8"/><text transform="translate(551.5 1340.5) rotate(-90)" y="6">199</text></g>
<g id="n30"><ellipse cx="599.3" cy="1009.2" rx="16.3" ry="17.5"/><text transform="translate(599.3 1009.2) rotate(-90)" y="6">30</text></g>
<g id="n150"><ellipse cx="599.3" cy="1062.8" rx="16.3" ry="23.8"/><text transform="translate(599.3 1062.8) rotate(-90)" y="6">150</text></g>
<g id="n98"><ellipse cx="599.3" cy="1112.5" rx="16.3" ry="17.5"/><text transform="translate(599.3 1112.5) rotate(-90)" y="6">98</text></g>
<g id="n27"><ellipse cx="599.3" cy="1157.5" rx="16.3" ry="17.5"/><text transform="translate(599.3 1157.5) rotate(-90)" y="6">27</text></g>
<g id="n13"><ellipse cx="599.3" cy="1203.5" rx="16.3" ry="17.5"/><text transform="translate(599.3 1203.5) rotate(-90)" y="6">13</text></g>
<g id="n34"><ellipse cx="647.1" cy="1009.2" rx="16.3" ry="17.5"/><text transform="translate(647.1 1009.2) rotate(-90)" y="6">34</text></g>
<g id="n172"><ellipse cx="647.1" cy="1148.2" rx="16.3" ry="23.8"/><text transform="translate(647.1 1148.2) rotate(-90)" y="6">172</text></g>
<g id="n146"><ellipse cx="647.1" cy="1203.8" rx="16.3" ry="23.8"/><text transform="translate(647.1 1203.8) rotate(-90)" y="6">146</text></g>
<g id="n90"><ellipse cx="647.1" cy="1253.2" rx="16.3" ry="17.5"/><text transform="translate(647.1 1253.2) rotate(-90)" y="6">90</text></g>
<g id="n189"><ellipse cx="694.9" cy="953.8" rx="16.3" ry="23.8"/><text transform="translate(694.9 953.8) rotate(-90)" y="6">189</text></g>
<g id="n121"><ellipse cx="694.9" cy="1008.8" rx="16.3" ry="23.8"/><text transform="translate(694.9 1008.8) rotate(-90)" y="6">121</text></g>
<g id="n47"><ellipse cx="694.9" cy="1057.5" rx="16.3" ry="17.5"/><text transform="translate(694.9 1057.5) rotate(-90)" y="6">47</text></g>
<g id="n164"><ellipse cx="694.9" cy="1108.8" rx="16.3" ry="23.8"/><text transform="translate(694.9 1108.8) rotate(-90)" y="6">164</text></g>
<g id="n38"><ellipse cx="694.9" cy="1157.5" rx="16.3" ry="17.5"/><text transform="translate(694.9 1157.5) rotate(-90)" y="6">38</text></g>
<g id="n67"><ellipse cx="694.9" cy="1203.5" rx="16.3" ry="17.5"/><text transform="translate(694.9 1203.5) rotate(-90)" y="6">67</text></g>
<g id="n181"><ellipse cx="694.9" cy="1252.8" rx="16.3" ry="23.8"/><text transform="translate(694.9 1252.8) rotate(-90)" y="6">181</text></g>
<g id="n64"><ellipse cx="694.9" cy="1301.8" rx="16.3" ry="17.5"/><text transform="translate(694.9 1301.8) rotate(-90)" y="6">64</text></g>
<g id="n174"><ellipse cx="742.7" cy="929.5" rx="16.3" ry="23.8"/><text transform="translate(742.7 929.5) rotate(-90)" y="6">174</text></g>
<g id="n55"><ellipse cx="742.7" cy="978.5" rx="16.3" ry="17.5"/><text transform="translate(742.7 978.5) rotate(-90)" y="6">55</text></g>
<g id="n183"><ellipse cx="742.7" cy="1087.2" rx="16.3" ry="23.8"/><text transform="translate(742.7 1087.2) rotate(-90)" y="6">183</text></g>
<g id="n97"><ellipse cx="742.7" cy="1135.8" rx="16.3" ry="17.5"/><text transform="translate(742.7 1135.8) rotate(-90)" y="6">97</text></g>
<g id="n65"><ellipse cx="742.7" cy="1179.5" rx="16.3" ry="17.5"/><text transform="translate(742.7 1179.5) rotate(-90)" y="6">65</text></g>
<g id="n33"><ellipse cx="742.7" cy="1222.8" rx="16.3" ry="17.5"/><text transform="translate(742.7 1222.8) rotate(-90)" y="6">33</text></g>
<g id="n84"><ellipse cx="790.5" cy="978.5" rx="16.3" ry="17.5"/><text transform="translate(790.5 978.5) rotate(-90)" y="6">84</text></g>
<g id="n32"><ellipse cx="790.5" cy="1135.8" rx="16.3" ry="17.5"/><text transform="translate(790.5 1135.8) rotate(-90)" y="6">32</text></g>
<g id="n139"><ellipse cx="790.5" cy="1222.8" rx="16.3" ry="23.8"/><text transform="translate(790.5 1222.8) rotate(-90)" y="6">139</text></g>
</svg>
